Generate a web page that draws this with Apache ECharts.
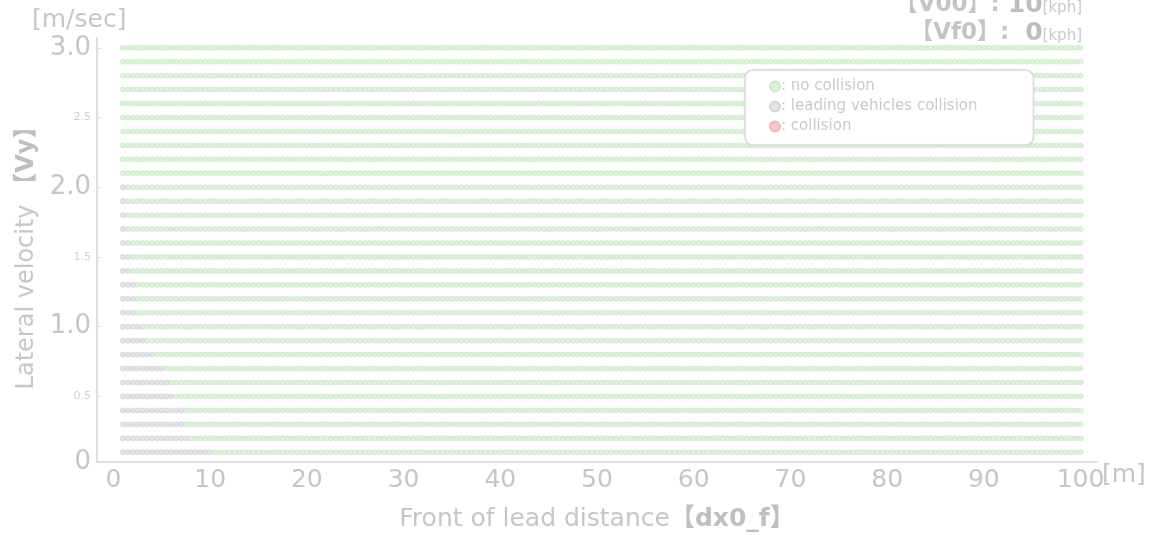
<!DOCTYPE html>
<html>
<head>
<meta charset="utf-8">
<script src="https://cdn.jsdelivr.net/npm/echarts@6/dist/echarts.min.js"></script>
<style>
  html, body { margin: 0; padding: 0; background: #ffffff; }
  #chart { width: 1166px; height: 535px; }
</style>
</head>
<body>
<div id="chart"></div>
<script>
// Sweep grid: front-of-lead distance [m] and lateral velocity [m/sec]
const dxValues = [
  1, 1.5, 2, 2.5, 3, 3.5, 4, 4.5, 5, 5.5, 6, 6.5, 7, 7.5, 8, 8.5, 9, 9.5, 10, 10.5,
  11, 11.5, 12, 12.5, 13, 13.5, 14, 14.5, 15, 15.5, 16, 16.5, 17, 17.5, 18, 18.5, 19, 19.5, 20, 20.5,
  21, 21.5, 22, 22.5, 23, 23.5, 24, 24.5, 25, 25.5, 26, 26.5, 27, 27.5, 28, 28.5, 29, 29.5, 30, 30.5,
  31, 31.5, 32, 32.5, 33, 33.5, 34, 34.5, 35, 35.5, 36, 36.5, 37, 37.5, 38, 38.5, 39, 39.5, 40, 40.5,
  41, 41.5, 42, 42.5, 43, 43.5, 44, 44.5, 45, 45.5, 46, 46.5, 47, 47.5, 48, 48.5, 49, 49.5, 50, 50.5,
  51, 51.5, 52, 52.5, 53, 53.5, 54, 54.5, 55, 55.5, 56, 56.5, 57, 57.5, 58, 58.5, 59, 59.5, 60, 60.5,
  61, 61.5, 62, 62.5, 63, 63.5, 64, 64.5, 65, 65.5, 66, 66.5, 67, 67.5, 68, 68.5, 69, 69.5, 70, 70.5,
  71, 71.5, 72, 72.5, 73, 73.5, 74, 74.5, 75, 75.5, 76, 76.5, 77, 77.5, 78, 78.5, 79, 79.5, 80, 80.5,
  81, 81.5, 82, 82.5, 83, 83.5, 84, 84.5, 85, 85.5, 86, 86.5, 87, 87.5, 88, 88.5, 89, 89.5, 90, 90.5,
  91, 91.5, 92, 92.5, 93, 93.5, 94, 94.5, 95, 95.5, 96, 96.5, 97, 97.5, 98, 98.5, 99, 99.5, 100
];
const vyValues = [
  0.1, 0.2, 0.3, 0.4, 0.5, 0.6, 0.7, 0.8, 0.9, 1.0,
  1.1, 1.2, 1.3, 1.4, 1.5, 1.6, 1.7, 1.8, 1.9, 2.0,
  2.1, 2.2, 2.3, 2.4, 2.5, 2.6, 2.7, 2.8, 2.9, 3.0
];
// Largest distance in each Vy row that ends in a leading-vehicles collision (0 = none)
const leadCollisionLimit = [
  10, 7.5, 7, 7, 6, 5.5, 5, 4, 3, 2.5,
  2, 2, 2, 1.5, 1.5, 1.5, 1, 1, 1, 1,
  0, 0, 0, 0, 0, 0, 0, 0, 0, 0
];
// Largest distance in each Vy row that ends in a collision (0 = none)
const collisionLimit = [
  0, 0, 0, 0, 0, 0, 0, 0, 0, 0,
  0, 0, 0, 0, 0, 0, 0, 0, 0, 0,
  0, 0, 0, 0, 0, 0, 0, 0, 0, 0
];
const xTicks = [0, 10, 20, 30, 40, 50, 60, 70, 80, 90, 100];
const yTicks = [0, 0.5, 1.0, 1.5, 2.0, 2.5, 3.0];
const seriesNames = ['no collision', 'leading vehicles collision', 'collision'];

const noCollision = [], leadCollision = [], collision = [];
vyValues.forEach((vy, r) => {
  dxValues.forEach(dx => {
    if (dx <= collisionLimit[r]) collision.push([dx, vy]);
    else if (dx <= leadCollisionLimit[r]) leadCollision.push([dx, vy]);
    else noCollision.push([dx, vy]);
  });
});

const txt = '#c6c6c6';
const font = '"DejaVu Sans", "Noto Sans CJK JP", sans-serif';
const boldRich = { fill: '#bfbfbf', fontSize: 25, fontWeight: 'bold', fontFamily: font };

const chart = echarts.init(document.getElementById('chart'), null, { renderer: 'canvas' });
chart.setOption({
  animation: false,
  backgroundColor: '#ffffff',
  grid: { left: 97, right: 69, top: 38, bottom: 73 },
  xAxis: {
    type: 'value',
    min: -1.7, max: 101.7,
    splitLine: { show: false },
    axisLine: { onZero: false, lineStyle: { color: '#dedede', width: 2 } },
    axisTick: { show: false },
    axisLabel: {
      customValues: xTicks,
      color: txt, fontSize: 25, fontFamily: font, margin: 6
    }
  },
  yAxis: {
    type: 'value',
    min: 0.03, max: 3.07,
    splitLine: { show: false },
    axisLine: { show: true, onZero: false, lineStyle: { color: '#dedede', width: 2 } },
    axisTick: { show: true, inside: true, length: 4, customValues: yTicks.filter(v => v > 0), lineStyle: { color: '#e2e2e2' } },
    axisLabel: {
      customValues: [0.03].concat(yTicks.filter(v => v > 0)),
      margin: 6,
      fontFamily: font,
      formatter: v => {
        if (v < 0.05) return '{big|0}';
        const s = v.toFixed(1);
        return Math.abs(v * 2 % 2 - 1) < 0.01 ? '{small|' + s + '}' : '{big|' + s + '}';
      },
      rich: {
        big: { color: txt, fontSize: 26, fontFamily: font },
        small: { color: '#cfcfcf', fontSize: 11, fontFamily: font }
      }
    }
  },
  legend: {
    orient: 'vertical',
    left: 745, top: 70,
    width: 290,
    padding: [9, 56, 11, 24],
    itemGap: 5,
    itemWidth: 10, itemHeight: 10,
    backgroundColor: '#ffffff',
    borderColor: '#dadada', borderWidth: 1.5, borderRadius: 8,
    shadowColor: 'rgba(0,0,0,0.06)', shadowBlur: 3,
    icon: 'circle',
    data: seriesNames,
    formatter: n => ': ' + n,
    textStyle: { color: '#c9c9c9', fontSize: 15, fontFamily: font, padding: [0, 0, 0, -4] }
  },
  series: [
    {
      name: seriesNames[0], type: 'scatter', data: noCollision,
      symbol: 'circle', symbolSize: [5.4, 5],
      itemStyle: { color: '#d5efd1', borderColor: '#c2e5be', borderWidth: 0.7 }
    },
    {
      name: seriesNames[1], type: 'scatter', data: leadCollision,
      symbol: 'circle', symbolSize: [5.4, 5],
      itemStyle: { color: '#dcdde2', borderColor: '#cbcdd4', borderWidth: 0.7 }
    },
    {
      name: seriesNames[2], type: 'scatter', data: collision,
      symbol: 'circle', symbolSize: [5.4, 5],
      itemStyle: { color: '#f4bcbc', borderColor: '#eeaaaa', borderWidth: 0.7 }
    }
  ],
  graphic: [
    { type: 'text', left: 32, top: 8,
      style: { text: '[m/sec]', fill: txt, fontSize: 25, fontFamily: font } },
    { type: 'text', left: 1102, top: 463,
      style: { text: '[m]', fill: txt, fontSize: 25, fontFamily: font } },
    { type: 'text', x: 597, y: 519,
      style: {
        text: 'Front of lead distance{b|【dx0_f】}',
        align: 'center', verticalAlign: 'middle',
        fill: txt, fontSize: 25, fontFamily: font,
        rich: { b: boldRich }
      } },
    { type: 'text', x: 27, y: 252, rotation: Math.PI / 2,
      style: {
        text: 'Lateral velocity {b|【Vy】}',
        align: 'center', verticalAlign: 'middle',
        fill: txt, fontSize: 24, fontFamily: font,
        rich: { b: { fill: '#bfbfbf', fontSize: 24, fontWeight: 'bold', fontFamily: font } }
      } },
    { type: 'text', x: 1082, y: 5,
      style: {
        text: '{l|【V00】: }{v|10}{u|[kph]}',
        align: 'right', verticalAlign: 'middle',
        rich: {
          l: { fill: '#c4c4c4', fontSize: 23, fontWeight: 'bold', fontFamily: font },
          v: { fill: '#bdbdbd', fontSize: 25, fontWeight: 'bold', fontFamily: font },
          u: { fill: '#c9c9c9', fontSize: 15, fontFamily: font, padding: [6, 0, 0, 0] }
        }
      } },
    { type: 'text', x: 1082, y: 33,
      style: {
        text: '{l|【Vf0】:  }{v|0}{u|[kph]}',
        align: 'right', verticalAlign: 'middle',
        rich: {
          l: { fill: '#c4c4c4', fontSize: 23, fontWeight: 'bold', fontFamily: font },
          v: { fill: '#bdbdbd', fontSize: 25, fontWeight: 'bold', fontFamily: font },
          u: { fill: '#c9c9c9', fontSize: 15, fontFamily: font, padding: [6, 0, 0, 0] }
        }
      } }
  ]
});
</script>
</body>
</html>
